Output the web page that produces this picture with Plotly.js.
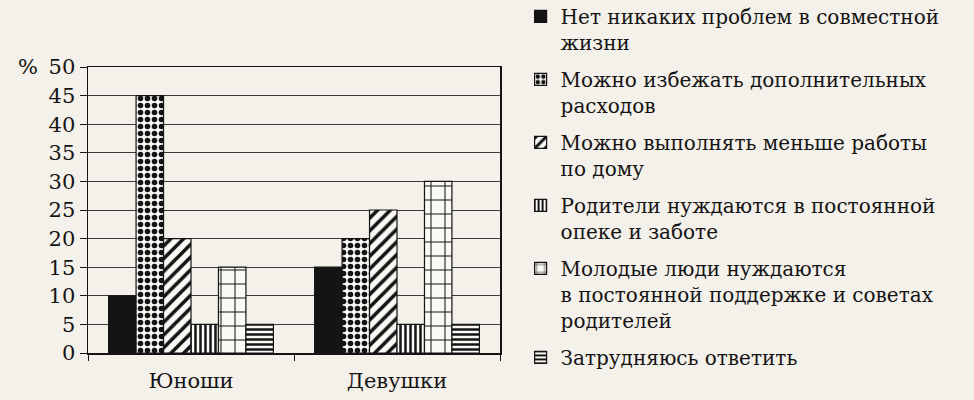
<!DOCTYPE html>
<html>
<head>
<meta charset="utf-8">
<script src="https://cdn.plot.ly/plotly-3.0.1.min.js"></script>
<style>
  html, body { margin: 0; padding: 0; background: #f4f0ea; }
  #chart { width: 974px; height: 400px; }
</style>
</head>
<body>
<div id="chart"></div>
<script>
/* Grouped bar chart with hatch patterns, legend on the right */

const groups = ['Юноши', 'Девушки'];

const seriesNames = [
    'Нет никаких проблем в совместной<br>жизни',
    'Можно избежать дополнительных<br>расходов',
    'Можно выполнять меньше работы<br>по дому',
    'Родители нуждаются в постоянной<br>опеке и заботе',
    'Молодые люди нуждаются<br>в постоянной поддержке и советах<br>родителей',
    'Затрудняюсь ответить',
];

const noProblems = [10, 15];
const avoidCosts = [45, 20];
const lessHousework = [20, 25];
const parentsNeedCare = [5, 5];
const youngNeedSupport = [15, 30];
const hardToSay = [5, 5];

const yTickVals = [0, 5, 10, 15, 20, 25, 30, 35, 40, 45, 50];
const yTickText = ['0', '5', '10', '15', '20', '25', '30', '35', '40', '45', '%\u200250'];

const INK = '#141414';
const PAPER = '#f4f0ea';
const FILL = '#fbf9f5';
const FONT = 'DejaVu Serif, Liberation Serif, serif';

// pattern for each series (shape, size, solidity)
const patterns = [
    null,
    { shape: '.', size: 7, solidity: 0.5 },
    { shape: '/', size: 9, solidity: 0.4 },
    { shape: '|', size: 5, solidity: 0.5 },
    { shape: '+', size: 14, solidity: 0.14 },
    { shape: '-', size: 5, solidity: 0.5 },
];

const values = [noProblems, avoidCosts, lessHousework, parentsNeedCare, youngNeedSupport, hardToSay];

const traces = values.map((vals, i) => {
    const p = patterns[i];
    const marker = { line: { color: INK, width: 1.2 } };
    if (p) {
        marker.color = FILL;
        marker.pattern = { shape: p.shape, size: p.size, solidity: p.solidity, fgcolor: INK, bgcolor: FILL, fillmode: 'replace' };
    } else {
        marker.color = INK;
    }
    return {
        type: 'bar',
        x: groups,
        y: vals,
        name: seriesNames[i],
        legendgroup: 'g' + i,
        marker: marker,
        hoverinfo: 'skip',
    };
});

const layout = {
    width: 974,
    height: 400,
    paper_bgcolor: PAPER,
    plot_bgcolor: PAPER,
    font: { family: FONT, size: 20, color: INK },
    margin: { l: 88, r: 474, t: 67, b: 47, autoexpand: false },
    barmode: 'group',
    bargap: 0.2,
    bargroupgap: 0,
    showlegend: true,
    xaxis: {
        tickson: 'boundaries',
        ticks: 'outside',
        ticklen: 6,
        tickcolor: INK,
        ticklabelstandoff: 8,
        showline: true,
        linecolor: INK,
        linewidth: 1.5,
        mirror: true,
        showgrid: false,
        tickfont: { family: FONT, size: 21, color: INK },
    },
    yaxis: {
        range: [0, 50],
        tickvals: yTickVals,
        ticktext: yTickText,
        ticks: 'outside',
        ticklen: 7,
        tickcolor: INK,
        showline: true,
        linecolor: INK,
        linewidth: 1.5,
        mirror: true,
        showgrid: true,
        gridcolor: '#3a3a3a',
        gridwidth: 1,
        zeroline: false,
        tickfont: { family: FONT, size: 21, color: INK },
    },
    legend: {
        x: 1.05,
        xanchor: 'left',
        y: 1.245,
        yanchor: 'top',
        maxheight: 420,
        bgcolor: 'rgba(0,0,0,0)',
        font: { family: FONT, size: 20, color: INK },
        tracegroupgap: 8,
        itemwidth: 30,
        valign: 'top',
    },
};

Plotly.newPlot('chart', traces, layout, { staticPlot: true, displayModeBar: false });
</script>
</body>
</html>
